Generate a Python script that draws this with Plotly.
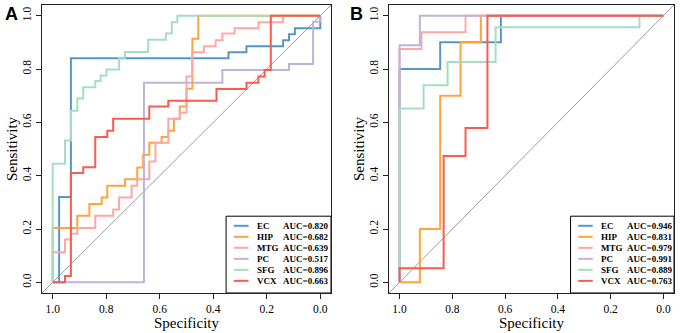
import plotly.graph_objects as go

# ---------------- data ----------------
categories = ["EC", "HIP", "MTG", "PC", "SFG", "VCX"]
auc_A = ["0.820", "0.682", "0.639", "0.517", "0.896", "0.663"]
auc_B = ["0.946", "0.831", "0.979", "0.991", "0.889", "0.763"]
tick_vals = [0.0, 0.2, 0.4, 0.6, 0.8, 1.0]
tick_text = ["0.0", "0.2", "0.4", "0.6", "0.8", "1.0"]

# Panel A ROC step vertices (specificity, sensitivity)
A_EC_spec = [1, 0.976, 0.932, 0.343, 0.276, 0.139, 0.117, 0.095, 0.0]
A_EC_sens = [0, 0.320, 0.840, 0.863, 0.885, 0.908, 0.930, 0.953, 1.0]
A_HIP_spec = [1, 1, 0.908, 0.863, 0.817, 0.796, 0.730, 0.684, 0.662, 0.639, 0.593, 0.568, 0.547, 0.525, 0.500, 0.478, 0.456, 0.0]
A_HIP_sens = [0, 0.204, 0.250, 0.294, 0.318, 0.362, 0.387, 0.431, 0.478, 0.523, 0.545, 0.568, 0.613, 0.659, 0.726, 0.913, 1.0, 1.0]
A_MTG_spec = [1, 1, 0.954, 0.932, 0.908, 0.841, 0.774, 0.752, 0.705, 0.684, 0.639, 0.616, 0.568, 0.525, 0.500, 0.479, 0.435, 0.391, 0.366, 0.320, 0.231, 0.139, 0.0]
A_MTG_sens = [0, 0.113, 0.161, 0.182, 0.204, 0.250, 0.273, 0.318, 0.362, 0.387, 0.453, 0.523, 0.613, 0.636, 0.772, 0.863, 0.885, 0.908, 0.933, 0.953, 0.975, 1.0, 1.0]
A_PC_spec = [1, 0.659, 0.366, 0.117, 0.027, 0.0]
A_PC_sens = [0, 0.748, 0.796, 0.819, 0.977, 1.0]
A_SFG_spec = [1, 1, 0.954, 0.932, 0.908, 0.886, 0.841, 0.821, 0.799, 0.752, 0.730, 0.643, 0.577, 0.555, 0.534, 0.0]
A_SFG_sens = [0, 0.445, 0.532, 0.643, 0.689, 0.732, 0.755, 0.776, 0.798, 0.842, 0.864, 0.910, 0.933, 0.975, 1.0, 1.0]
A_VCX_spec = [1, 0.954, 0.932, 0.886, 0.841, 0.796, 0.774, 0.639, 0.568, 0.388, 0.276, 0.231, 0.208, 0.185, 0.0]
A_VCX_sens = [0, 0.024, 0.410, 0.432, 0.545, 0.568, 0.613, 0.659, 0.681, 0.725, 0.748, 0.772, 0.796, 1.0, 1.0]

# Panel B ROC step vertices
B_EC_spec = [1, 1, 0.846, 0.616, 0.0]
B_EC_sens = [0, 0.800, 0.900, 1.0, 1.0]
B_HIP_spec = [1, 0.923, 0.846, 0.769, 0.692, 0.0]
B_HIP_sens = [0, 0.200, 0.700, 0.900, 1.0, 1.0]
B_MTG_spec = [1, 1, 0.917, 0.750, 0.0]
B_MTG_sens = [0, 0.875, 0.9375, 1.0, 1.0]
B_PC_spec = [1, 1, 0.923, 0.0]
B_PC_sens = [0, 0.889, 1.0, 1.0]
B_SFG_spec = [1, 1, 0.909, 0.818, 0.636, 0.091, 0.0]
B_SFG_sens = [0, 0.652, 0.739, 0.826, 0.957, 1.0, 1.0]
B_VCX_spec = [1, 1, 0.833, 0.750, 0.667, 0.0]
B_VCX_sens = [0, 0.053, 0.474, 0.579, 1.0, 1.0]

# ---------------- styles ----------------
colors = ["#5597CB", "#FFA33A", "#FFA8A3", "#BDB4DC", "#A3DEC2", "#FA5A50"]
SERIF = "Liberation Serif, Times New Roman, serif"
X_RANGE = [1.04, -0.04]
Y_RANGE = [-0.04, 1.04]

panel_A = [(A_EC_spec, A_EC_sens), (A_HIP_spec, A_HIP_sens), (A_MTG_spec, A_MTG_sens),
           (A_PC_spec, A_PC_sens), (A_SFG_spec, A_SFG_sens), (A_VCX_spec, A_VCX_sens)]
panel_B = [(B_EC_spec, B_EC_sens), (B_HIP_spec, B_HIP_sens), (B_MTG_spec, B_MTG_sens),
           (B_PC_spec, B_PC_sens), (B_SFG_spec, B_SFG_sens), (B_VCX_spec, B_VCX_sens)]

fig = go.Figure()
annotations = []
shapes = []

for (xa, ya, curves, aucs) in [("x", "y", panel_A, auc_A), ("x2", "y2", panel_B, auc_B)]:
    # diagonal reference line across the whole plotting region
    fig.add_trace(go.Scatter(x=[X_RANGE[0], X_RANGE[1]], y=[Y_RANGE[0], Y_RANGE[1]],
                             mode="lines", line=dict(color="#9a9a9a", width=1),
                             xaxis=xa, yaxis=ya, showlegend=False, hoverinfo="skip"))
    for (spec, sens), col, name in zip(curves, colors, categories):
        fig.add_trace(go.Scatter(x=spec, y=sens, mode="lines", line_shape="hv",
                                 line=dict(color=col, width=2), name=name,
                                 xaxis=xa, yaxis=ya, showlegend=False))
    # legend box
    shapes.append(dict(type="rect", xref=xa, yref=ya, x0=0.352, x1=X_RANGE[1],
                       y0=Y_RANGE[0], y1=0.248, line=dict(color="black", width=1),
                       fillcolor="white", layer="above"))
    for i, (name, auc, col) in enumerate(zip(categories, aucs, colors)):
        yy = 0.212 - i * 0.0413
        shapes.append(dict(type="line", xref=xa, yref=ya, x0=0.323, x1=0.268,
                           y0=yy, y1=yy, line=dict(color=col, width=2), layer="above"))
        annotations.append(dict(xref=xa, yref=ya, x=0.243, y=yy, text="<b>%s</b>" % name,
                                showarrow=False, xanchor="left", yanchor="middle",
                                font=dict(family=SERIF, size=9, color="black")))
        annotations.append(dict(xref=xa, yref=ya, x=0.147, y=yy, text="<b>AUC=%s</b>" % auc,
                                showarrow=False, xanchor="left", yanchor="middle",
                                font=dict(family=SERIF, size=9, color="black")))

annotations.append(dict(xref="paper", yref="paper", x=3 / 680, y=1 - 2 / 333, text="<b>A</b>",
                        showarrow=False, xanchor="left", yanchor="top",
                        font=dict(family="Liberation Sans, Arial, sans-serif", size=18, color="black")))
annotations.append(dict(xref="paper", yref="paper", x=348 / 680, y=1 - 2 / 333, text="<b>B</b>",
                        showarrow=False, xanchor="left", yanchor="top",
                        font=dict(family="Liberation Sans, Arial, sans-serif", size=18, color="black")))

axis_common = dict(showgrid=False, zeroline=False, showline=True, mirror=True,
                   linecolor="#222", linewidth=1.2, ticks="outside", ticklen=5,
                   tickwidth=1, tickcolor="#222", tickvals=tick_vals, ticktext=tick_text,
                   tickfont=dict(family=SERIF, size=11.5, color="black"))

xdomA = [42 / 680, 331 / 680]
xdomB = [389 / 680, 674 / 680]
ydom = [1 - 293 / 333, 1 - 5 / 333]

fig.update_layout(
    width=680, height=333, margin=dict(l=0, r=0, t=0, b=0),
    paper_bgcolor="white", plot_bgcolor="white",
    xaxis=dict(domain=xdomA, range=X_RANGE, anchor="y",
               title=dict(text="Specificity", font=dict(family=SERIF, size=15, color="black"), standoff=1),
               **axis_common),
    yaxis=dict(domain=ydom, range=Y_RANGE, anchor="x", tickangle=-90,
               title=dict(text="Sensitivity", font=dict(family=SERIF, size=15, color="black"), standoff=0),
               **axis_common),
    xaxis2=dict(domain=xdomB, range=X_RANGE, anchor="y2",
                title=dict(text="Specificity", font=dict(family=SERIF, size=15, color="black"), standoff=1),
                **axis_common),
    yaxis2=dict(domain=ydom, range=Y_RANGE, anchor="x2", tickangle=-90,
                title=dict(text="Sensitivity", font=dict(family=SERIF, size=15, color="black"), standoff=0),
                **axis_common),
    annotations=annotations, shapes=shapes, showlegend=False,
)

fig.write_html("out.html", config={"displayModeBar": False},
               post_script="document.body.style.margin='0';document.body.style.padding='0';")
